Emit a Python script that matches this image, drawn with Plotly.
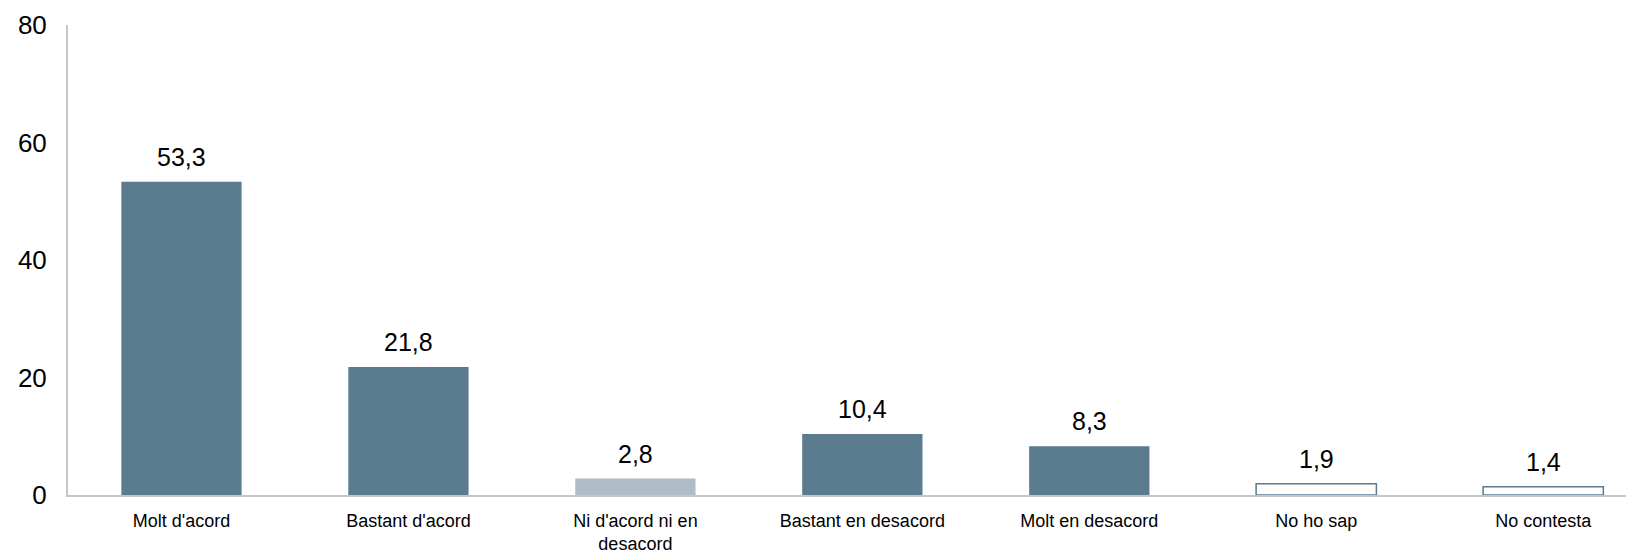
import plotly.graph_objects as go

CATEGORIES = [
    "Molt d'acord",
    "Bastant d'acord",
    "Ni d'acord ni en<br>desacord",
    "Bastant en desacord",
    "Molt en desacord",
    "No ho sap",
    "No contesta",
]
VALUES = [53.3, 21.8, 2.8, 10.4, 8.3, 1.9, 1.4]
Y_TICKS = [0, 20, 40, 60, 80]

DARK = "#5b7b8f"
LIGHT = "#adbcc7"
AXIS_GREY = "#c6c6c6"
FONT = "Liberation Sans, Arial"

fill_colors = [DARK, DARK, LIGHT, DARK, DARK, "white", "white"]
line_widths = [0, 0, 0, 0, 0, 1.5, 1.5]

fig = go.Figure()
fig.add_trace(go.Bar(
    x=CATEGORIES,
    y=VALUES,
    width=0.53,
    marker=dict(color=fill_colors, line=dict(color=DARK, width=line_widths)),
    hoverinfo="skip",
))

# value labels with comma decimal separator
for cat, val in zip(CATEGORIES, VALUES):
    fig.add_annotation(
        x=cat, y=val, text=f"{val:.1f}".replace(".", ","),
        showarrow=False, yanchor="bottom", yshift=9,
        font=dict(family=FONT, size=25, color="#000000"),
    )

# the page body has an 8px margin, so the figure is 8px smaller than the window
fig.update_layout(
    width=1626,
    height=545,
    paper_bgcolor="white",
    plot_bgcolor="white",
    showlegend=False,
    margin=dict(l=60, r=0, t=17, b=58),
    font=dict(family=FONT, color="#000000"),
    xaxis=dict(
        type="category",
        range=[-0.5, 6.4],
        automargin=False,
        showline=True, linecolor=AXIS_GREY, linewidth=2,
        showgrid=False, ticks="", zeroline=False,
        tickfont=dict(size=18),
        ticklabelstandoff=8,
    ),
    yaxis=dict(
        range=[0, 80],
        tickvals=Y_TICKS,
        automargin=False,
        showline=True, linecolor=AXIS_GREY, linewidth=2,
        showgrid=False, ticks="", zeroline=False,
        tickfont=dict(size=26),
        ticklabelstandoff=14,
    ),
)

fig.write_html("out.html")
